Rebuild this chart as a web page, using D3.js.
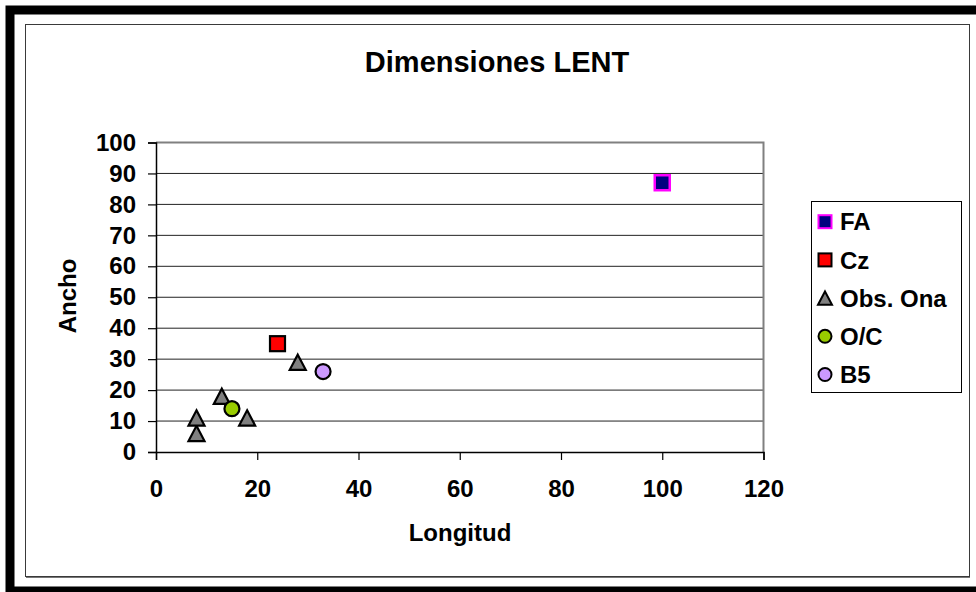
<!DOCTYPE html>
<html><head><meta charset="utf-8">
<script src="https://cdn.jsdelivr.net/npm/d3@7"></script>
<style>body{margin:0;background:#fff}svg{display:block}text{font-family:"Liberation Sans",Arial,sans-serif;font-weight:bold;fill:#000}</style>
</head><body><div id="chart"></div>
<script>
const title = "Dimensiones LENT";
const xTitle = "Longitud";
const yTitle = "Ancho";
const seriesNames = ["FA", "Cz", "Obs. Ona", "O/C", "B5"];
const faX = [100], faY = [87];
const czX = [24], czY = [35];
const onaX = [8, 8, 13, 18, 28], onaY = [6, 11, 18, 11, 29];
const ocX = [15], ocY = [14];
const b5X = [33], b5Y = [26];
const xTicks = [0, 20, 40, 60, 80, 100, 120];
const yTicks = [0, 10, 20, 30, 40, 50, 60, 70, 80, 90, 100];

const W = 976, H = 592;
const svg = d3.select("#chart").append("svg").attr("width", W).attr("height", H);

// frames
svg.append("rect").attr("x", 10).attr("y", 10).attr("width", 980).attr("height", 581)
  .attr("fill", "none").attr("stroke", "#000").attr("stroke-width", 9);
svg.append("rect").attr("x", 25.5).attr("y", 24.5).attr("width", 944).attr("height", 552)
  .attr("fill", "none").attr("stroke", "#3a3a3a").attr("stroke-width", 1);
svg.append("line").attr("x1", 26).attr("x2", 970).attr("y1", 577.5).attr("y2", 577.5).attr("stroke", "#777").attr("stroke-width", 1);

const x = d3.scaleLinear().domain([0, 120]).range([156, 763.5]);
const y = d3.scaleLinear().domain([0, 100]).range([452, 142.5]);

// gridlines
svg.append("g").selectAll("line").data(yTicks.filter(d => d > 0 && d < 100)).join("line")
  .attr("x1", x(0)).attr("x2", x(120)).attr("y1", d => y(d)).attr("y2", d => y(d))
  .attr("stroke", "#222").attr("stroke-width", 1);
// plot border top/right
svg.append("path").attr("d", `M${x(0)},${y(100)}H${x(120)}V${y(0)}`)
  .attr("fill", "none").attr("stroke", "#808080").attr("stroke-width", 2);

// axes
const yAxis = svg.append("g").attr("transform", `translate(${x(0)},0)`)
  .call(d3.axisLeft(y).tickValues(yTicks).tickSize(8).tickPadding(12));
const xAxis = svg.append("g").attr("transform", `translate(0,${y(0)})`)
  .call(d3.axisBottom(x).tickValues(xTicks).tickSize(8).tickPadding(20));
[yAxis, xAxis].forEach(g => {
  g.select(".domain").attr("stroke", "#000").attr("stroke-width", 1.5);
  g.selectAll(".tick line").attr("stroke", "#000").attr("stroke-width", 1.2);
  g.selectAll(".tick text").attr("font-size", 24).attr("font-family", '"Liberation Sans",Arial,sans-serif').attr("font-weight", "bold").attr("fill", "#000");
});

// titles
svg.append("text").attr("x", 497).attr("y", 72).attr("text-anchor", "middle").attr("font-size", 29).text(title);
svg.append("text").attr("x", 460).attr("y", 541).attr("text-anchor", "middle").attr("font-size", 24).text(xTitle);
svg.append("text").attr("transform", "translate(76,296) rotate(-90)").attr("text-anchor", "middle").attr("font-size", 24).text(yTitle);

// marker shapes
function marker(sel, type, s) {
  if (type === "square") return sel.append("rect").attr("x", -s / 2).attr("y", -s / 2).attr("width", s).attr("height", s);
  if (type === "circle") return sel.append("circle").attr("r", s / 2);
  const h = s * 0.95;
  return sel.append("path").attr("d", `M0,${-h / 2}L${s / 2},${h / 2}L${-s / 2},${h / 2}Z`);
}
const styles = [
  { name: seriesNames[0], xs: faX, ys: faY, type: "square", fill: "#000080", stroke: "#FF00FF", sw: 2.5 },
  { name: seriesNames[1], xs: czX, ys: czY, type: "square", fill: "#FF0000", stroke: "#000", sw: 2.2 },
  { name: seriesNames[2], xs: onaX, ys: onaY, type: "triangle", fill: "#808080", stroke: "#000", sw: 2.2 },
  { name: seriesNames[3], xs: ocX, ys: ocY, type: "circle", fill: "#99CC00", stroke: "#000", sw: 2.2 },
  { name: seriesNames[4], xs: b5X, ys: b5Y, type: "circle", fill: "#CC99FF", stroke: "#000", sw: 2.2 }
];
styles.forEach(st => {
  const pts = st.xs.map((v, i) => [v, st.ys[i]]);
  svg.append("g").selectAll("g").data(pts).join("g")
    .attr("transform", d => `translate(${x(d[0])},${y(d[1])})`)
    .each(function () {
      marker(d3.select(this), st.type, st.type === "triangle" ? 16 : 15)
        .attr("fill", st.fill).attr("stroke", st.stroke).attr("stroke-width", st.sw).attr("stroke-linejoin", "miter");
    });
});

// legend
svg.append("rect").attr("x", 811.5).attr("y", 201.5).attr("width", 150).attr("height", 191)
  .attr("fill", "#fff").attr("stroke", "#000").attr("stroke-width", 1);
styles.forEach((st, i) => {
  const cy = 221.7 + i * 38.2;
  const g = svg.append("g").attr("transform", `translate(825,${cy})`);
  marker(g, st.type, st.type === "triangle" ? 14 : 13).attr("fill", st.fill).attr("stroke", st.stroke).attr("stroke-width", 2);
  svg.append("text").attr("x", 840).attr("y", cy).attr("dy", "0.36em").attr("font-size", 24).text(st.name);
});
</script></body></html>
